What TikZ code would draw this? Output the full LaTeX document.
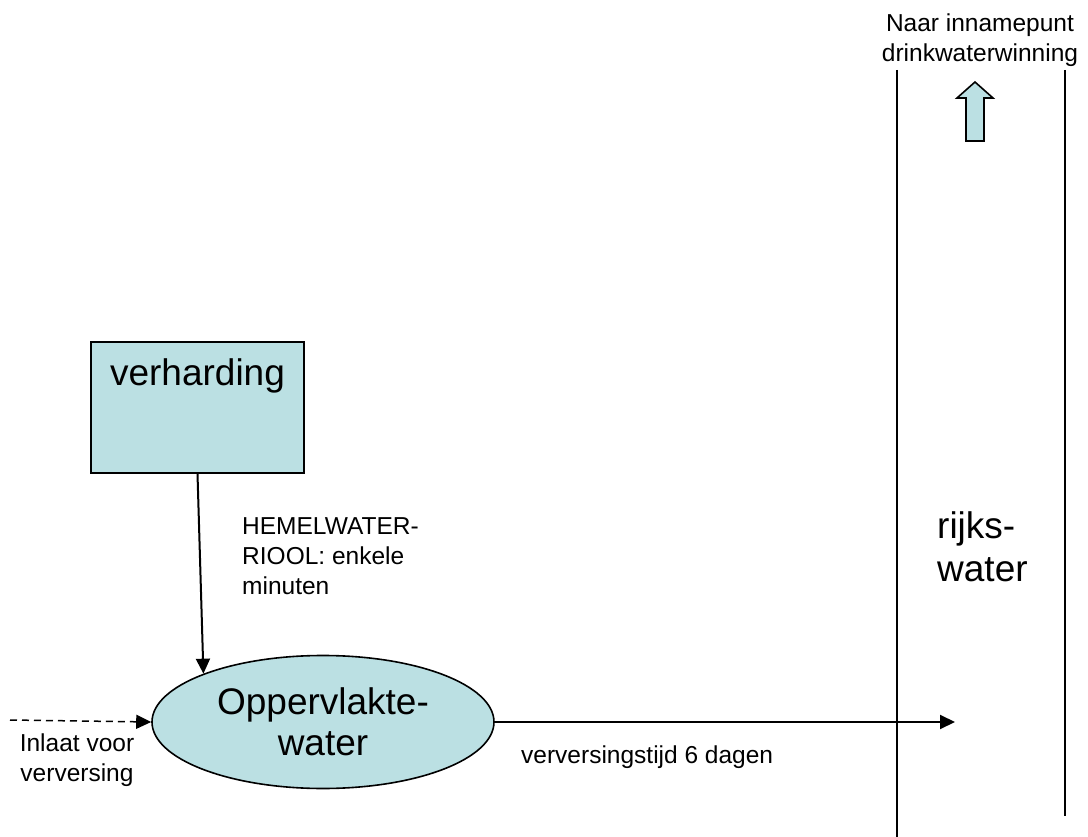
\documentclass[tikz,border=0pt]{standalone}
\usepackage{fontspec}
\setmainfont{Liberation Sans}
\usetikzlibrary{arrows.meta,shapes.geometric,positioning}
\definecolor{waterblue}{RGB}{187,224,227}
\tikzset{
  flow/.style={line width=2pt,-{Triangle[length=15pt,width=14pt]}},
  bigtext/.style={font=\fontsize{37}{42}\selectfont},
  smalltext/.style={inner sep=0pt,font=\fontsize{24.5}{30}\selectfont},
  basin/.style={draw,line width=1.6pt,fill=waterblue,inner sep=0pt,bigtext},
  bank/.style={line width=2pt},
}

\begin{document}
\begin{tikzpicture}[x=1pt,y=-1pt]
\useasboundingbox (0,0) rectangle (1088,837);

\node[basin,minimum width=213pt,text height=43pt,text depth=88pt] (hard) at (197.5,407.5) {verharding};
\node[basin,ellipse,minimum width=342pt,minimum height=133pt,align=center,font=\fontsize{37}{41}\selectfont] (oval) at (323,722) {Oppervlakte-\\water};

\coordinate (inlet) at (10,720);
\coordinate (outlet) at (955,722);

\node[smalltext,align=left,anchor=west] (sewer) at (242,556) {HEMELWATER-\\RIOOL: enkele\\minuten};
\node[smalltext,align=center] (inlettext) at (77,760) {Inlaat voor\\verversing};
\node[smalltext,anchor=base west] (refresh) at (521,763) {verversingstijd 6 dagen};
\node[bigtext,inner sep=0pt,align=left,anchor=west,font=\fontsize{37}{43}\selectfont] (river) at (937,547) {rijks-\\water};
\node[smalltext,align=center] (intake) at (980,40) {Naar innamepunt\\drinkwaterwinning};

\draw[bank] (897,70) -- (897,837);
\draw[bank] (1065,70) -- (1065,816);
\draw[line width=1.6pt,fill=waterblue] (966,141) -- (966,98) -- (957,98) -- (975,82)
  -- (993,98) -- (984,98) -- (984,141) -- cycle;

\draw[flow] (hard.south) -- (oval.158);
\draw[flow,line width=1.5pt,dash pattern=on 7pt off 5pt] (inlet) -- (oval.west);
\draw[flow] (oval.east) -- (outlet);
\end{tikzpicture}
\end{document}
